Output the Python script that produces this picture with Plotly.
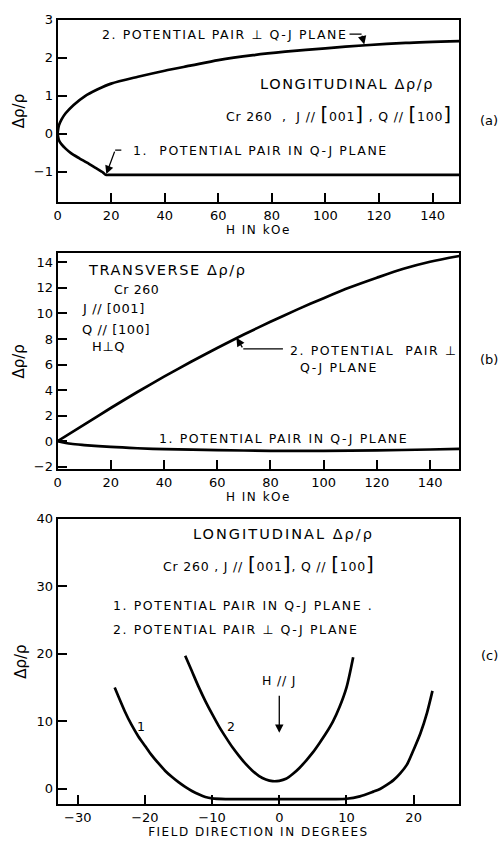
import plotly.graph_objects as go

# ---------------- data ----------------
# Panel (a): longitudinal, vs H (kOe)
a_pair1_H = [0, 0.5, 1.5, 3, 5, 8, 11, 14, 17, 18, 20, 40, 80, 120, 150]
a_pair1_y = [0, -0.17, -0.28, -0.39, -0.51, -0.64, -0.76, -0.89, -1.02, -1.08, -1.08, -1.08, -1.08, -1.08, -1.08]
a_pair2_H = [0, 0.5, 1.5, 3, 6, 10, 15, 20, 30, 40, 50, 60, 73, 85, 100, 115, 130, 150]
a_pair2_y = [0, 0.22, 0.38, 0.54, 0.76, 0.98, 1.17, 1.32, 1.5, 1.66, 1.8, 1.94, 2.07, 2.16, 2.25, 2.33, 2.39, 2.44]

# Panel (b): transverse, vs H (kOe)
b_pair1_H = [0, 5, 10, 20, 30, 40, 60, 80, 100, 120, 140, 151]
b_pair1_y = [0, -0.2, -0.3, -0.45, -0.55, -0.62, -0.7, -0.75, -0.75, -0.72, -0.65, -0.6]
b_pair2_H = [0, 10, 20, 30, 40, 50, 60, 70, 80, 90, 100, 110, 120, 130, 140, 151]
b_pair2_y = [0, 1.3, 2.6, 3.85, 5.05, 6.2, 7.3, 8.35, 9.35, 10.3, 11.2, 12.05, 12.8, 13.5, 14.05, 14.5]

# Panel (c): longitudinal, vs field direction (degrees)
c_pair1_deg = [-24.5, -23, -22, -21, -20, -19, -18, -17, -16, -15, -14, -13, -12, -11, -10, -8, -4, 0, 4, 8, 10,
               12, 14, 15, 16, 17, 18, 19, 20, 21, 22, 22.8]
c_pair1_y = [15, 11.5, 9.5, 7.8, 6.4, 5.0, 3.8, 2.7, 1.8, 1.0, 0.3, -0.3, -0.8, -1.2, -1.4, -1.5, -1.5, -1.5, -1.5, -1.5, -1.45,
             -1.1, -0.4, 0, 0.6, 1.3, 2.3, 3.6, 5.8, 8.2, 11.3, 14.5]
c_pair2_deg = [-14, -13, -12, -11, -10, -9, -8, -7, -6, -5, -4, -3, -2, -1, 0, 1, 2, 3, 4, 5, 6, 7, 8, 9, 10, 11]
c_pair2_y = [19.7, 17.4, 15.1, 13.0, 11.1, 9.3, 7.7, 6.2, 4.9, 3.7, 2.7, 1.9, 1.4, 1.15, 1.2, 1.5, 2.2, 3.1, 4.2, 5.4,
             6.8, 8.3, 10.0, 12.2, 15.0, 19.5]

# tick values
ab_xticks = [0, 20, 40, 60, 80, 100, 120, 140]
a_yticks = [-1, 0, 1, 2, 3]
b_yticks = [-2, 0, 2, 4, 6, 8, 10, 12, 14]
c_xticks = [-30, -20, -10, 0, 10, 20]
c_yticks = [0, 10, 20, 30, 40]

FONT = "DejaVu Sans"
INK = "#000000"
LW = 2.7

fig = go.Figure()
for xs, ys, xa, ya in [(a_pair1_H, a_pair1_y, "x", "y"), (a_pair2_H, a_pair2_y, "x", "y"),
                       (b_pair1_H, b_pair1_y, "x2", "y2"), (b_pair2_H, b_pair2_y, "x2", "y2"),
                       (c_pair1_deg, c_pair1_y, "x3", "y3"), (c_pair2_deg, c_pair2_y, "x3", "y3")]:
    fig.add_trace(go.Scatter(x=xs, y=ys, mode="lines",
                             line=dict(color=INK, width=LW, shape="spline", smoothing=0.8),
                             xaxis=xa, yaxis=ya, hoverinfo="skip"))


def xax(domain_anchor, rng, ticks, title):
    return dict(domain=[0.108, 0.918], anchor=domain_anchor, range=rng, tickvals=ticks,
                ticks="inside", ticklen=9, tickwidth=1.5, tickcolor=INK,
                showline=True, linewidth=2, linecolor=INK, mirror=True,
                showgrid=False, zeroline=False,
                tickfont=dict(family=FONT, size=13, color=INK),
                title=dict(text="<span style='letter-spacing:1.5px'>" + title + "</span>",
                           font=dict(family=FONT, size=12, color=INK), standoff=2))


def yax(domain, anchor, rng, ticks):
    return dict(domain=domain, anchor=anchor, range=rng, tickvals=ticks,
                ticks="inside", ticklen=9, tickwidth=1.5, tickcolor=INK,
                showline=True, linewidth=2, linecolor=INK, mirror=True,
                showgrid=False, zeroline=False,
                tickfont=dict(family=FONT, size=13, color=INK),
                title=dict(text="Δρ/ρ", font=dict(family=FONT, size=15, color=INK), standoff=6))


fig.update_layout(
    width=500, height=842, autosize=False,
    margin=dict(l=0, r=0, t=0, b=0),
    paper_bgcolor="white", plot_bgcolor="white",
    showlegend=False,
    xaxis=xax("y", [0, 150], ab_xticks, "H IN kOe"),
    yaxis=yax([0.7648, 0.9846], "x", [-1.8, 3.0], a_yticks),
    xaxis2=xax("y2", [0, 151], ab_xticks, "H IN kOe"),
    yaxis2=yax([0.4430, 0.7031], "x2", [-2.2, 14.7], b_yticks),
    xaxis3=xax("y3", [-33, 26.8], c_xticks, "FIELD DIRECTION IN DEGREES"),
    yaxis3=yax([0.0392, 0.3836], "x3", [-2.3, 40], c_yticks),
)

TF = dict(family=FONT, size=12.5, color=INK)
MF = dict(family=FONT, size=13, color=INK)
BF = dict(family=FONT, size=14.5, color=INK)


def sp(s, ls=1.6):
    return "<span style='letter-spacing:%.1fpx'>%s</span>" % (ls, s)


def txt(x, y, s, xr, yr, font=TF, xanchor="left", ls=1.6):
    fig.add_annotation(x=x, y=y, xref=xr, yref=yr, text=sp(s, ls), showarrow=False, font=font,
                       xanchor=xanchor, yanchor="middle")


def arrow(x, y, ax, ay, xr, yr):
    fig.add_annotation(x=x, y=y, ax=ax, ay=ay, xref=xr, yref=yr, axref=xr, ayref=yr, text="",
                       showarrow=True, arrowhead=2, arrowsize=1.3, arrowwidth=1.3, arrowcolor=INK)


def seg(x0, y0, x1, y1, xr, yr):
    fig.add_shape(type="line", x0=x0, y0=y0, x1=x1, y1=y1, xref=xr, yref=yr,
                  line=dict(color=INK, width=1.3))


BR = "<span style='font-size:20px'>[</span>"
BRc = "<span style='font-size:20px'>]</span>"

# ---- panel (a) ----
txt(16, 2.62, "2. POTENTIAL PAIR ⊥ Q-J PLANE", "x", "y")
seg(109, 2.62, 113.5, 2.62, "x", "y")
arrow(114.5, 2.35, 113.5, 2.62, "x", "y")
txt(108, 1.32, "LONGITUDINAL Δρ/ρ", "x", "y", BF, "center", 1.6)
txt(105, 0.53, "Cr 260  ,  J // " + BR + "001" + BRc + " , Q // " + BR + "100" + BRc, "x", "y", TF, "center", 0.8)
txt(27.4, -0.43, "1.  POTENTIAL PAIR IN Q-J PLANE", "x", "y")
seg(21.5, -0.43, 23.8, -0.43, "x", "y")
arrow(18.2, -1.06, 21.5, -0.43, "x", "y")
fig.add_annotation(x=1.0, y=0.875, xref="paper", yref="paper", text="(a)", showarrow=False,
                   xanchor="right", font=MF)

# ---- panel (b) ----
txt(10.8, 13.4, "TRANSVERSE Δρ/ρ", "x2", "y2", BF, "left", 1.6)
txt(20.5, 11.9, "Cr 260", "x2", "y2", TF, "left", 0.6)
txt(8.5, 10.35, "J // [001]", "x2", "y2", MF, "left", 0.6)
txt(8.5, 8.75, "Q // [100]", "x2", "y2", MF, "left", 0.6)
txt(12.3, 7.45, "H⊥Q", "x2", "y2", MF, "left", 0.6)
txt(86.6, 7.08, "2. POTENTIAL  PAIR ⊥", "x2", "y2")
txt(90.3, 5.78, "Q-J PLANE", "x2", "y2")
seg(69.8, 7.23, 84.7, 7.23, "x2", "y2")
arrow(67.2, 8.1, 69.8, 7.23, "x2", "y2")
txt(37.3, 0.23, "1. POTENTIAL PAIR IN Q-J PLANE", "x2", "y2")
fig.add_annotation(x=1.0, y=0.575, xref="paper", yref="paper", text="(b)", showarrow=False,
                   xanchor="right", font=MF)

# ---- panel (c) ----
txt(0.7, 37.7, "LONGITUDINAL Δρ/ρ", "x3", "y3", BF, "center", 2.0)
txt(-1.6, 33.3, "Cr 260 , J // " + BR + "001" + BRc + ", Q // " + BR + "100" + BRc, "x3", "y3", TF, "center", 0.8)
txt(-25, 27.2, "1. POTENTIAL PAIR IN Q-J PLANE .", "x3", "y3")
txt(-25, 23.6, "2. POTENTIAL PAIR ⊥ Q-J PLANE", "x3", "y3")
txt(0, 16.0, "H // J", "x3", "y3", TF, "center", 0.8)
arrow(0, 8.3, 0, 14.0, "x3", "y3")
txt(-20.6, 9.2, "1", "x3", "y3", TF, "center", 0)
txt(-7.2, 9.2, "2", "x3", "y3", TF, "center", 0)
fig.add_annotation(x=1.0, y=0.207, xref="paper", yref="paper", text="(c)", showarrow=False,
                   xanchor="right", font=MF)

fig.write_html("out.html")
